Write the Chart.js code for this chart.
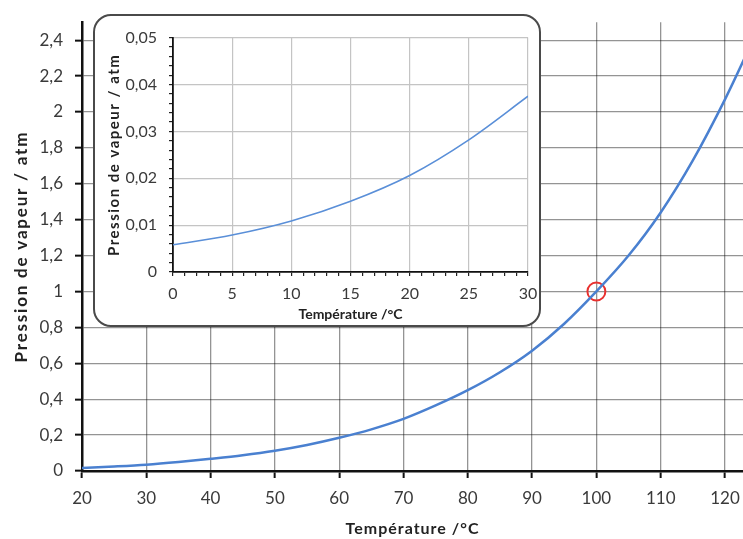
<!DOCTYPE html>
<html>
<head>
<meta charset="utf-8">
<script src="https://cdn.jsdelivr.net/npm/chart.js@4/dist/chart.umd.min.js"></script>
<style>
  html, body { margin: 0; padding: 0; background: #fff; overflow: hidden; }
  #wrap { position: relative; width: 743px; height: 539px; }
  #main { position: absolute; left: 0; top: 0; }
  #insetBox { position: absolute; left: 93px; top: 14px; width: 448px; height: 313px;
    box-sizing: border-box; border: 2px solid #4a4a4a; border-radius: 18px; background: #fff; }
  #inset { position: absolute; left: 0; top: 0; }
</style>
</head>
<body>
<div id="wrap">
  <canvas id="main" width="743" height="539"></canvas>
  <div id="insetBox"><canvas id="inset" width="444" height="309"></canvas></div>
</div>
<script>
// ---- data ----
const mainTemps = [20,25,30,35,40,45,50,55,60,65,70,75,80,85,90,95,100,105,110,115,120,125];
const mainPressures = [0.017,0.025,0.035,0.05,0.068,0.088,0.113,0.145,0.185,0.232,0.29,0.365,0.45,0.55,0.67,0.82,1.0,1.2,1.44,1.73,2.07,2.45];
const insetTemps = [0,5,10,15,20,25,30];
const insetPressures = [0.0058,0.0079,0.0109,0.0151,0.0206,0.0282,0.0375];
const markedPoint = [{x:100, y:1}];
const mainXTicks = [20,30,40,50,60,70,80,90,100,110,120];
const mainYTicks = [0,0.2,0.4,0.6,0.8,1,1.2,1.4,1.6,1.8,2,2.2,2.4];
const xTitle = 'Température /°C';
const yTitle = 'Pression de vapeur / atm';

const FONT = 'Lato, "Liberation Sans", sans-serif';
const fmt = v => String(parseFloat(v.toFixed(3))).replace('.', ',');
const isMult = (v, s) => Math.abs(v / s - Math.round(v / s)) < 1e-6;

// letter spacing for axis titles
const titleSpacing = {
  id: 'titleSpacing',
  beforeDraw(chart, args, opts) {
    for (const id of Object.keys(chart.scales)) {
      const s = chart.scales[id];
      const sp = opts[id];
      if (!sp || s._spPatched) continue;
      const orig = Object.getPrototypeOf(s).drawTitle;
      s.drawTitle = function () {
        const ctx = this.ctx;
        ctx.save();
        ctx.letterSpacing = sp;
        orig.call(this);
        ctx.restore();
      };
      s._spPatched = true;
    }
  }
};
const noHPad = s => { s.paddingLeft = 0; s.paddingRight = 0; };

new Chart(document.getElementById('main'), {
  type: 'line',
  data: {
    datasets: [
      { data: mainTemps.map((t,i)=>({x:t, y:mainPressures[i]})), borderColor: '#4a80d0', borderWidth: 2.5,
        pointRadius: 0, cubicInterpolationMode: 'monotone', fill: false },
      { data: markedPoint, showLine: false, pointRadius: 9, pointBorderWidth: 2,
        pointBorderColor: '#e8312f', pointBackgroundColor: 'rgba(0,0,0,0)' }
    ]
  },
  plugins: [titleSpacing],
  options: {
    responsive: false, animation: false, devicePixelRatio: 1,
    layout: { autoPadding: false, padding: { left: 0, top: 20, right: 0, bottom: 0 } },
    plugins: { legend: { display: false }, tooltip: { enabled: false },
               titleSpacing: { x: '1px', y: '1.8px' } },
    scales: {
      x: {
        type: 'linear', min: 20, max: 122.8,
        ticks: { color: '#3a3a3a', font: { family: FONT, size: 17 }, padding: 10, maxRotation: 0,
                 callback: v => fmt(v) },
        afterBuildTicks: s => { s.ticks = mainXTicks.map(v => ({ value: v })); },
        grid: { color: 'rgba(0,0,0,0.42)', lineWidth: 1.3, tickLength: 7, tickColor: '#111', tickWidth: 2 },
        border: { color: '#111', width: 2.5 },
        title: { display: true, text: xTitle, color: '#222', font: { family: FONT, size: 16, weight: 'bold' },
                 padding: { top: 0, bottom: 1 } },
        afterFit: s => { s.height = 68; noHPad(s); }
      },
      y: {
        min: 0, max: 2.5,
        ticks: { color: '#3a3a3a', font: { family: FONT, size: 17 }, padding: 12,
                 callback: v => fmt(v) },
        afterBuildTicks: s => { s.ticks = mainYTicks.map(v => ({ value: v })); },
        grid: { color: 'rgba(0,0,0,0.42)', lineWidth: 1.3, tickLength: 7, tickColor: '#111', tickWidth: 2 },
        border: { color: '#111', width: 2.5 },
        title: { display: true, text: yTitle, color: '#222', font: { family: FONT, size: 17, weight: 'bold' },
                 padding: { top: 11, bottom: 0 } },
        afterFit: s => { s.width = 82; }
      }
    }
  }
});

new Chart(document.getElementById('inset'), {
  type: 'line',
  data: {
    datasets: [
      { data: insetTemps.map((t,i)=>({x:t, y:insetPressures[i]})), borderColor: '#5a8fd8', borderWidth: 1.6,
        pointRadius: 0, cubicInterpolationMode: 'monotone', fill: false }
    ]
  },
  plugins: [titleSpacing],
  options: {
    responsive: false, animation: false, devicePixelRatio: 1,
    layout: { autoPadding: false, padding: { left: 0, top: 8, right: 11, bottom: 0 } },
    plugins: { legend: { display: false }, tooltip: { enabled: false },
               titleSpacing: { y: '1.5px' } },
    scales: {
      x: {
        type: 'linear', min: 0, max: 30,
        ticks: { stepSize: 1, autoSkip: false, maxRotation: 0, color: '#3a3a3a', font: { family: FONT, size: 16 }, padding: 8,
                 callback: v => isMult(v, 5) ? fmt(v) : '' },
        grid: { color: c => (c.tick && isMult(c.tick.value, 5)) ? '#c4c4c4' : 'rgba(0,0,0,0)', lineWidth: 1.2,
                tickLength: 4, tickColor: '#222', tickWidth: 1.2 },
        border: { color: '#111', width: 1.8 },
        title: { display: true, text: xTitle, color: '#222', font: { family: FONT, size: 14, weight: 'bold' },
                 padding: { top: 0, bottom: 2 } },
        afterFit: s => { s.height = 53; noHPad(s); }
      },
      y: {
        min: 0, max: 0.05,
        ticks: { stepSize: 0.002, autoSkip: false, color: '#3a3a3a', font: { family: FONT, size: 16 }, padding: 12,
                 callback: v => isMult(v, 0.01) ? fmt(v) : '' },
        grid: { color: c => (c.tick && isMult(c.tick.value, 0.01)) ? '#c4c4c4' : 'rgba(0,0,0,0)', lineWidth: 1.2,
                tickLength: 4, tickColor: '#222', tickWidth: 1.2 },
        border: { color: '#111', width: 1.8 },
        title: { display: true, text: yTitle, color: '#222', font: { family: FONT, size: 15, weight: 'bold' },
                 padding: { top: 10, bottom: 0 } },
        afterFit: s => { s.width = 78; }
      }
    }
  }
});
</script>
</body>
</html>
